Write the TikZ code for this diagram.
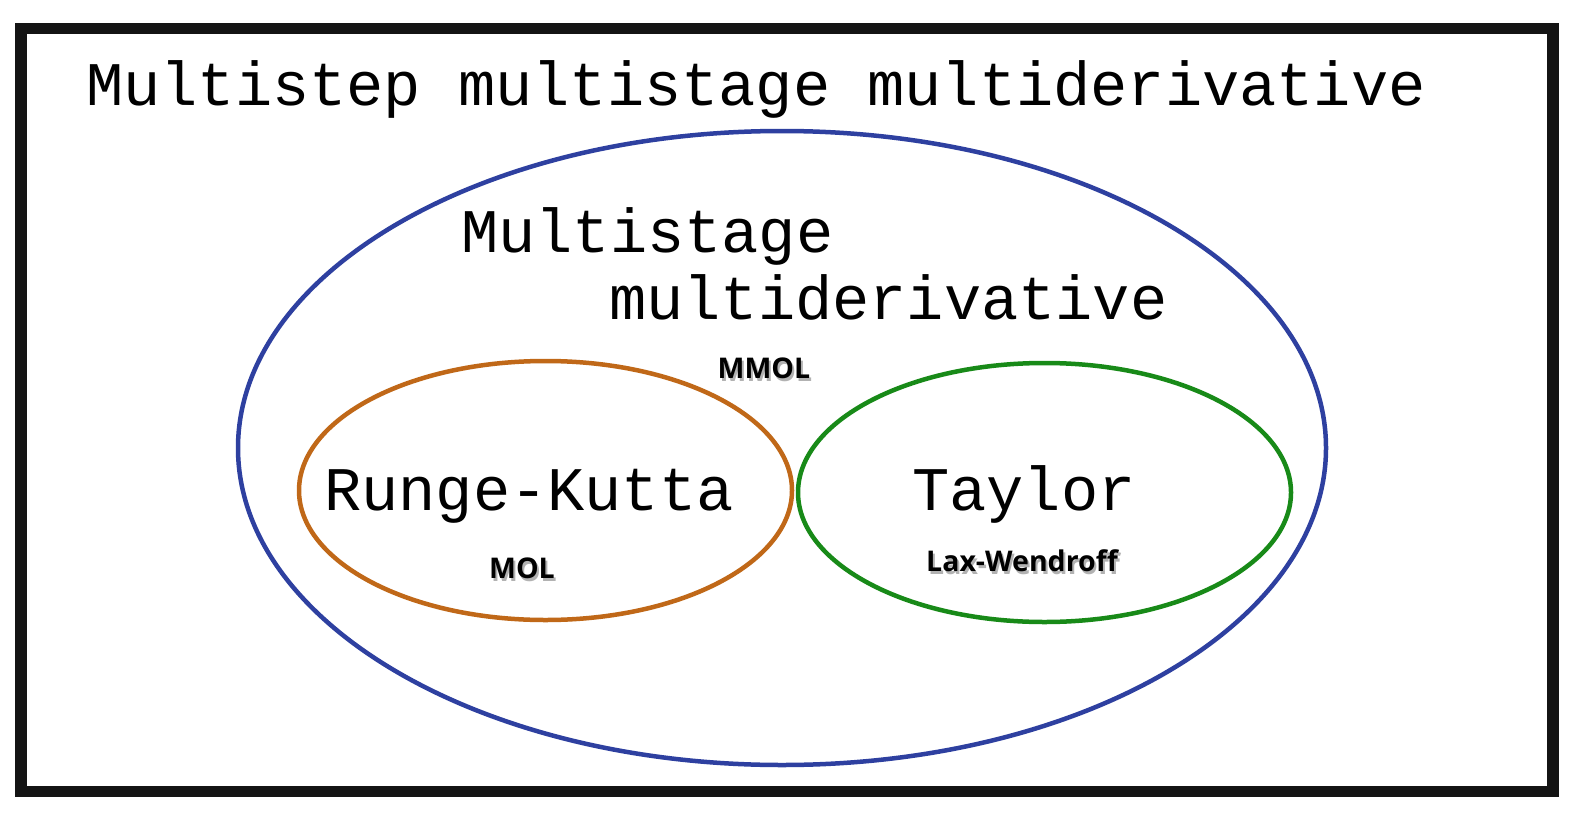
\documentclass[tikz,border=0pt]{standalone}
\usepackage{fontspec}
\usetikzlibrary{shapes.geometric}
\setmainfont{Liberation Mono}
\newfontfamily\lblfont{Open Sans}[BoldFont={* Bold}]
\definecolor{setblue}{RGB}{46,64,160}
\definecolor{setorange}{RGB}{192,104,24}
\definecolor{setgreen}{RGB}{24,138,24}
\begin{document}
\begin{tikzpicture}[x=1pt,y=-1pt,
  big/.style={inner sep=0pt, font=\fontsize{62}{62}\selectfont, anchor=base},
  lbl/.style={inner sep=0pt, font=\lblfont\bfseries\fontsize{28.5}{28.5}\selectfont},
  shd/.style={lbl, text=black!30},
  setline/.style={line width=4.5pt, ellipse, inner sep=0pt}]
\useasboundingbox (0,0) rectangle (1578,824);
\fill[white] (0,0) rectangle (1578,824);
\node[draw=black!92, line width=11.5pt, minimum width=1532pt, minimum height=763pt, inner sep=0pt] (frame) at (787,410) {};
\node[big] (title) at (756,106) {Multistep multistage multiderivative};
\node[draw=setblue, setline, minimum width=1088pt, minimum height=634pt] (outer) at (782,448) {};
\node[draw=setorange, setline, minimum width=493pt, minimum height=259pt] (rk) at (545.5,490.5) {};
\node[draw=setgreen, setline, minimum width=493pt, minimum height=259pt] (tay) at (1044.5,492.5) {};
\node[big, anchor=base west] (ms) at (461,252) {Multistage};
\node[big, anchor=base west] (md) at (609,319) {multiderivative};
\node[big] (rkt) at (529,510) {Runge-Kutta};
\node[big] (tayt) at (1024,510) {Taylor};
\node[shd] at (766,371) {MMOL};
\node[lbl] (mmol) at (764,368) {MMOL};
\node[shd] at (524,571) {MOL};
\node[lbl] (mol) at (522,568) {MOL};
\node[shd] at (1024,564) {Lax-Wendroff};
\node[lbl] (lw) at (1022,561) {Lax-Wendroff};
\end{tikzpicture}
\end{document}
